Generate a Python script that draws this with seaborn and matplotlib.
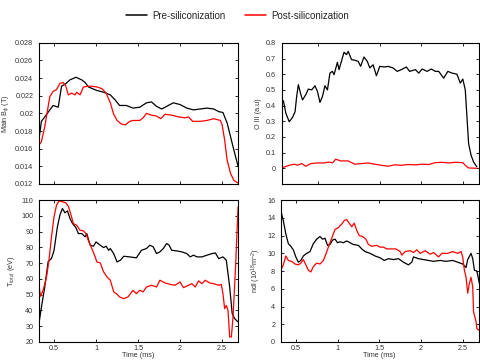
import matplotlib
matplotlib.use("Agg")
import matplotlib.pyplot as plt
import seaborn as sns
from matplotlib.lines import Line2D

# ---- Main B_phi (top left) ----
bphi_pre_t = [0.32, 0.35, 0.39, 0.45, 0.49, 0.55, 0.59, 0.63, 0.69, 0.76, 0.83, 0.87, 0.91,
              1.01, 1.09, 1.17, 1.23, 1.28, 1.36, 1.44, 1.52, 1.60, 1.66, 1.72, 1.78, 1.84,
              1.92, 2.00, 2.08, 2.16, 2.24, 2.32, 2.40, 2.46, 2.51, 2.56, 2.62, 2.66, 2.69]
bphi_pre = [0.0170, 0.0191, 0.0196, 0.0204, 0.0209, 0.0207, 0.0231, 0.0233, 0.0238, 0.0241,
            0.0238, 0.0235, 0.0230, 0.0226, 0.0224, 0.0221, 0.0215, 0.0209, 0.0209, 0.0206,
            0.0207, 0.0212, 0.0213, 0.0208, 0.0205, 0.0208, 0.0212, 0.0210, 0.0206, 0.0204,
            0.0205, 0.0206, 0.0205, 0.0202, 0.0201, 0.0189, 0.0166, 0.0151, 0.0140]
bphi_post_t = [0.32, 0.35, 0.39, 0.45, 0.49, 0.53, 0.57, 0.61, 0.64, 0.67, 0.71, 0.75, 0.77,
               0.81, 0.85, 0.93, 1.01, 1.07, 1.12, 1.17, 1.21, 1.25, 1.30, 1.35, 1.40, 1.44,
               1.52, 1.56, 1.60, 1.66, 1.72, 1.77, 1.82, 1.90, 1.98, 2.06, 2.10, 2.15, 2.24,
               2.32, 2.40, 2.48, 2.50, 2.53, 2.56, 2.60, 2.64, 2.69]
bphi_post = [0.0164, 0.0168, 0.0185, 0.0219, 0.0225, 0.0227, 0.0234, 0.0235, 0.0231, 0.0221,
             0.0223, 0.0221, 0.0224, 0.0221, 0.0230, 0.0231, 0.0230, 0.0228, 0.0223, 0.0212,
             0.0199, 0.0192, 0.0188, 0.0187, 0.0191, 0.0192, 0.0192, 0.0195, 0.0200, 0.0198,
             0.0197, 0.0194, 0.0199, 0.0198, 0.0196, 0.0195, 0.0196, 0.0191, 0.0191, 0.0192,
             0.0194, 0.0192, 0.0187, 0.0170, 0.0147, 0.0132, 0.0124, 0.0121]

# ---- O III (top right) ----
oiii_pre_t = [0.29, 0.31, 0.34, 0.37, 0.41, 0.45, 0.48, 0.50, 0.52, 0.55, 0.57, 0.61, 0.64,
              0.68, 0.72, 0.75, 0.78, 0.81, 0.84, 0.87, 0.90, 0.93, 0.95, 0.99, 1.01, 1.05,
              1.07, 1.10, 1.12, 1.16, 1.20, 1.24, 1.27, 1.31, 1.35, 1.38, 1.42, 1.46, 1.50,
              1.56, 1.60, 1.66, 1.71, 1.76, 1.82, 1.86, 1.93, 1.97, 2.01, 2.07, 2.12, 2.17,
              2.21, 2.27, 2.32, 2.37, 2.43, 2.47, 2.50, 2.53, 2.55, 2.57, 2.60, 2.63, 2.67]
oiii_pre = [0.394, 0.43, 0.43, 0.35, 0.297, 0.325, 0.36, 0.46, 0.533, 0.47, 0.436, 0.47, 0.505,
            0.50, 0.526, 0.49, 0.42, 0.458, 0.526, 0.50, 0.607, 0.618, 0.597, 0.676, 0.629,
            0.704, 0.74, 0.725, 0.746, 0.693, 0.689, 0.682, 0.65, 0.71, 0.682, 0.64, 0.66,
            0.59, 0.65, 0.646, 0.65, 0.64, 0.618, 0.629, 0.646, 0.618, 0.629, 0.607, 0.633,
            0.618, 0.633, 0.618, 0.618, 0.575, 0.618, 0.607, 0.60, 0.543, 0.569, 0.50, 0.33,
            0.158, 0.083, 0.04, 0.009]
oiii_post_t = [0.29, 0.35, 0.41, 0.47, 0.51, 0.56, 0.61, 0.67, 0.75, 0.83, 0.89, 0.93, 0.97,
               1.03, 1.12, 1.20, 1.28, 1.36, 1.44, 1.52, 1.60, 1.68, 1.76, 1.84, 1.93, 2.01,
               2.09, 2.17, 2.25, 2.33, 2.41, 2.50, 2.53, 2.57, 2.67]
oiii_post = [0.0, 0.008, 0.019, 0.026, 0.02, 0.03, 0.013, 0.03, 0.034, 0.034, 0.04, 0.034,
             0.058, 0.047, 0.047, 0.026, 0.03, 0.034, 0.026, 0.019, 0.013, 0.022, 0.019, 0.024,
             0.022, 0.026, 0.024, 0.036, 0.038, 0.034, 0.038, 0.036, 0.019, 0.002, 0.0]

# ---- T_total (bottom left) ----
te_pre_t = [0.32, 0.35, 0.39, 0.43, 0.47, 0.50, 0.54, 0.57, 0.60, 0.63, 0.66, 0.69, 0.72,
            0.76, 0.79, 0.83, 0.87, 0.89, 0.93, 0.97, 1.00, 1.05, 1.09, 1.12, 1.15, 1.17,
            1.21, 1.25, 1.29, 1.33, 1.40, 1.48, 1.54, 1.60, 1.64, 1.68, 1.72, 1.76, 1.80,
            1.84, 1.87, 1.90, 1.96, 2.02, 2.08, 2.12, 2.16, 2.20, 2.26, 2.32, 2.38, 2.42,
            2.46, 2.51, 2.55, 2.59, 2.62, 2.65, 2.69]
te_pre = [31.6, 42, 55, 71, 73, 78, 93, 100.5, 104.7, 102, 103.2, 98.4, 95.2, 92.6, 88.8,
          88.8, 86.7, 88.8, 81.4, 80.8, 83.5, 81.4, 79.9, 80.8, 78.2, 79.3, 76.1, 70.8, 71.9,
          74.4, 74, 73.4, 78.2, 79.3, 81.4, 80.4, 76.1, 77.2, 79.3, 82.5, 81.4, 78.2, 77.8,
          77.2, 76.1, 74, 75.1, 74, 74, 75.1, 76.1, 76.5, 72.9, 74, 71.9, 55, 38, 34.8, 32.7]
te_post_t = [0.32, 0.34, 0.37, 0.41, 0.44, 0.47, 0.50, 0.53, 0.56, 0.60, 0.64, 0.67, 0.70,
             0.73, 0.77, 0.81, 0.85, 0.88, 0.91, 0.95, 0.99, 1.01, 1.05, 1.09, 1.13, 1.17,
             1.21, 1.25, 1.28, 1.33, 1.38, 1.44, 1.48, 1.52, 1.56, 1.60, 1.66, 1.72, 1.76,
             1.82, 1.88, 1.94, 2.00, 2.04, 2.10, 2.14, 2.18, 2.22, 2.26, 2.30, 2.35, 2.40,
             2.46, 2.49, 2.51, 2.53, 2.55, 2.57, 2.59, 2.61, 2.63, 2.66, 2.69]
te_post = [56, 49, 52.8, 60.9, 71.9, 86.7, 99.4, 106.8, 109.6, 109, 108.3, 106.2, 101.1,
           95.2, 94.1, 90.9, 90.5, 88.8, 84.2, 79.3, 74, 70.8, 70.2, 64.5, 61.3, 59.2, 51.8,
           50.3, 48.6, 47.5, 48.6, 52.8, 50.7, 52.8, 51.8, 54.9, 56, 54.9, 59.2, 57.5, 56.6,
           56, 58.1, 54.5, 56, 57, 54.9, 58.8, 57, 59.2, 57.5, 57, 56, 56.6, 50.7, 41.2, 43.2,
           40.1, 23.2, 23.2, 35.9, 67.6, 105.8]

# ---- ndl (bottom right) ----
ndl_pre_t = [0.32, 0.35, 0.38, 0.41, 0.44, 0.47, 0.50, 0.53, 0.56, 0.59, 0.63, 0.67, 0.71,
             0.75, 0.79, 0.82, 0.85, 0.88, 0.91, 0.94, 0.97, 1.00, 1.03, 1.07, 1.11, 1.15,
             1.19, 1.25, 1.29, 1.33, 1.39, 1.45, 1.51, 1.56, 1.61, 1.67, 1.73, 1.79, 1.85,
             1.89, 1.91, 1.97, 2.03, 2.09, 2.15, 2.23, 2.30, 2.38, 2.44, 2.50, 2.54, 2.56,
             2.60, 2.62, 2.64, 2.67, 2.70]
ndl_pre = [14.8, 13.7, 12.2, 11.1, 10.8, 10.4, 9.6, 9.0, 9.2, 9.7, 10.0, 10.2, 11.1, 11.6,
           11.9, 11.6, 11.7, 10.9, 11.0, 11.5, 11.6, 11.2, 11.3, 11.2, 11.4, 11.2, 11.0, 10.9,
           10.5, 10.2, 10.0, 9.7, 9.5, 9.2, 9.4, 9.3, 9.4, 9.0, 8.7, 9.0, 9.6, 9.4, 9.3, 9.2,
           9.1, 9.2, 9.1, 9.2, 9.0, 8.8, 8.4, 9.3, 10.0, 9.4, 8.1, 8.0, 6.6]
ndl_post_t = [0.32, 0.35, 0.38, 0.41, 0.45, 0.49, 0.53, 0.56, 0.59, 0.62, 0.65, 0.68, 0.71,
              0.75, 0.79, 0.83, 0.86, 0.89, 0.93, 0.97, 1.01, 1.05, 1.08, 1.11, 1.14, 1.17,
              1.20, 1.23, 1.26, 1.30, 1.34, 1.37, 1.41, 1.47, 1.51, 1.55, 1.59, 1.65, 1.70,
              1.75, 1.77, 1.81, 1.87, 1.91, 1.95, 1.99, 2.05, 2.11, 2.15, 2.21, 2.25, 2.32,
              2.38, 2.44, 2.48, 2.50, 2.52, 2.54, 2.56, 2.58, 2.60, 2.62, 2.63, 2.66, 2.67, 2.70]
ndl_post = [8.1, 8.7, 9.7, 9.2, 9.1, 8.8, 8.7, 8.9, 9.3, 8.7, 8.1, 7.9, 8.5, 8.9, 8.8, 9.2,
            9.9, 10.7, 11.7, 12.7, 12.9, 13.3, 13.7, 13.8, 13.4, 13.0, 13.4, 12.6, 12.0, 11.9,
            11.6, 11.0, 10.8, 10.9, 10.7, 10.7, 10.5, 10.5, 10.5, 10.2, 9.8, 10.2, 10.3, 10.1,
            10.4, 10.0, 10.3, 9.9, 10.1, 9.6, 10.0, 10.0, 10.2, 10.0, 10.2, 9.6, 8.1, 7.3,
            5.5, 6.6, 7.3, 6.2, 3.4, 2.3, 1.5, 1.3]

sns.set_style("ticks")
plt.rcParams['font.family'] = ['Liberation Sans', 'DejaVu Sans']
plt.rcParams['mathtext.fontset'] = 'custom'
plt.rcParams['mathtext.rm'] = 'Liberation Sans'
plt.rcParams['mathtext.it'] = 'Liberation Sans:italic'

fs = 5.2
tick_col = '#333333'
x_lim = (0.32, 2.69)
x_ticks = [0.5, 1, 1.5, 2, 2.5]
x_labels = ['0.5', '1', '1.5', '2', '2.5']

fig = plt.figure(figsize=(4.8, 3.6), dpi=100)
ax_b = fig.add_axes([0.081, 0.489, 0.415, 0.392])
ax_o = fig.add_axes([0.587, 0.489, 0.41, 0.392])
ax_t = fig.add_axes([0.081, 0.050, 0.415, 0.394])
ax_n = fig.add_axes([0.585, 0.050, 0.412, 0.394])

panels = [
    (ax_b, bphi_pre_t, bphi_pre, bphi_post_t, bphi_post),
    (ax_o, oiii_pre_t, oiii_pre, oiii_post_t, oiii_post),
    (ax_t, te_pre_t, te_pre, te_post_t, te_post),
    (ax_n, ndl_pre_t, ndl_pre, ndl_post_t, ndl_post),
]
for ax, tp, yp, tq, yq in panels:
    sns.lineplot(x=tp, y=yp, ax=ax, color='black', linewidth=0.9, sort=False, estimator=None)
    sns.lineplot(x=tq, y=yq, ax=ax, color='red', linewidth=0.9, sort=False, estimator=None)
    ax.set_xlim(*x_lim)
    ax.tick_params(direction='in', top=True, right=True, length=2, width=0.6,
                   labelsize=fs, colors='black', labelcolor=tick_col)
    ax.tick_params(axis='y', pad=4)
    ax.tick_params(axis='x', pad=2)
    for sp in ax.spines.values():
        sp.set_linewidth(0.8)
        sp.set_color('black')

# top left
ax_b.set_ylim(0.012, 0.028)
ax_b.set_yticks([0.012, 0.014, 0.016, 0.018, 0.02, 0.022, 0.024, 0.026, 0.028])
ax_b.set_yticklabels(['0.012', '0.014', '0.016', '0.018', '0.02', '0.022', '0.024', '0.026', '0.028'])
ax_b.set_xticks(x_ticks)
ax_b.set_xticklabels([])
ax_b.set_ylabel(r'Main B$_{\phi}$ (T)', fontsize=fs, color=tick_col, labelpad=3)

# top right
ax_o.set_ylim(-0.1, 0.8)
ax_o.set_yticks([0, 0.1, 0.2, 0.3, 0.4, 0.5, 0.6, 0.7, 0.8])
ax_o.set_yticklabels(['0', '0.1', '0.2', '0.3', '0.4', '0.5', '0.6', '0.7', '0.8'])
ax_o.set_xticks([0.76, 1.5, 2, 2.5])
ax_o.set_xticklabels([])
ax_o.set_ylabel('O III (a.u)', fontsize=fs, color=tick_col, labelpad=3)

# bottom left
ax_t.set_ylim(20, 110)
ax_t.set_yticks(list(range(20, 111, 10)))
ax_t.set_xticks(x_ticks)
ax_t.set_xticklabels(x_labels)
ax_t.set_ylabel(r'T$_{total}$ (eV)', fontsize=fs, color=tick_col, labelpad=3)
ax_t.set_xlabel('Time (ms)', fontsize=fs, color=tick_col, labelpad=0.5)

# bottom right
ax_n.set_ylim(0, 16)
ax_n.set_yticks(list(range(0, 17, 2)))
ax_n.set_xticks(x_ticks)
ax_n.set_xticklabels(x_labels)
ax_n.set_ylabel(r'ndl (10$^{18}$m$^{-2}$)', fontsize=fs, color=tick_col, labelpad=3)
ax_n.set_xlabel('Time (ms)', fontsize=fs, color=tick_col, labelpad=0.5)

handles = [Line2D([], [], color='black', linewidth=1.1),
           Line2D([], [], color='red', linewidth=1.1)]
fig.legend(handles, ['Pre-siliconization', 'Post-siliconization'], loc='center',
           bbox_to_anchor=(0.494, 0.956), ncol=2, frameon=False, fontsize=7,
           handlelength=2.2, handletextpad=0.5, columnspacing=2.0)

fig.savefig('out.png', dpi=100)
